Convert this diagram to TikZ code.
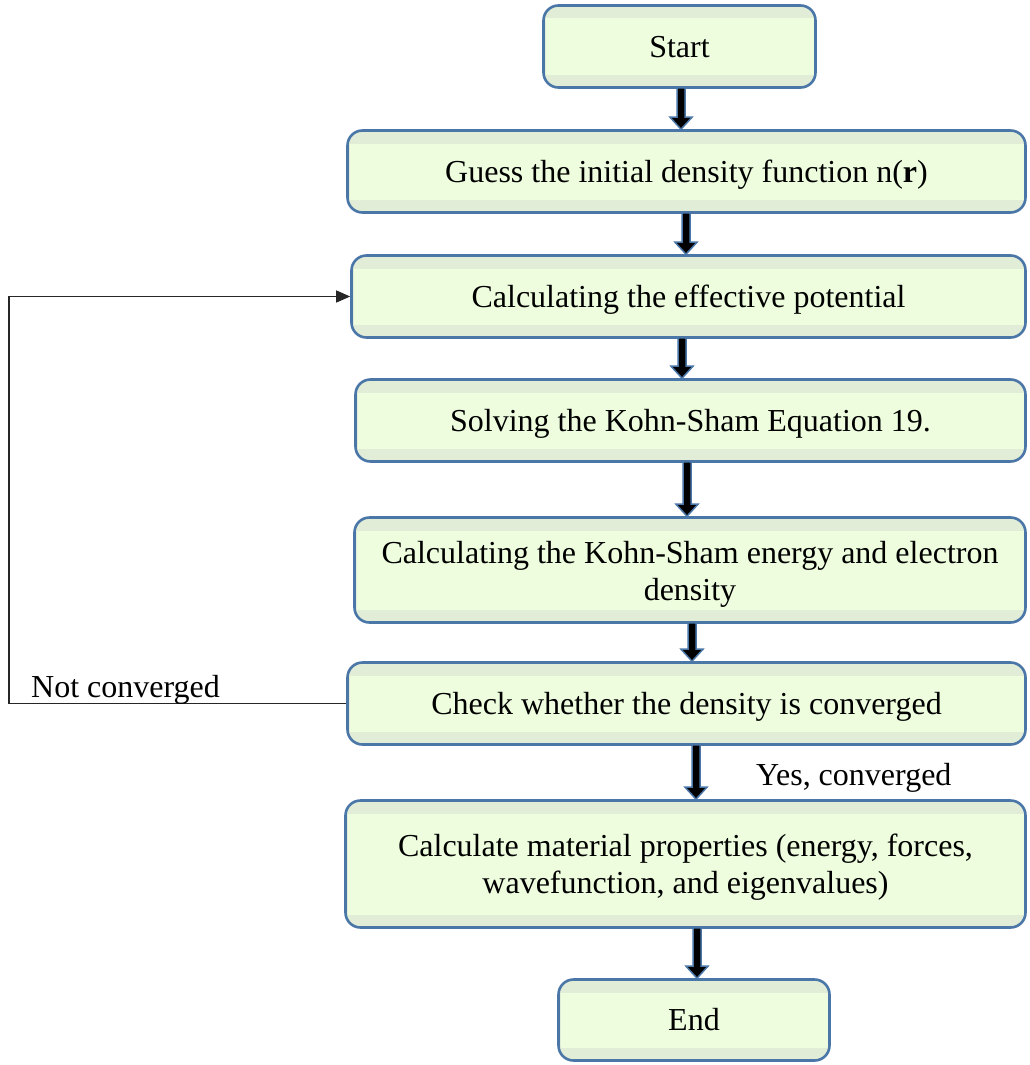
\documentclass[tikz,border=0pt]{standalone}
\usepackage{fontspec}
\setmainfont{Liberation Serif}
\usetikzlibrary{arrows.meta,calc}
\definecolor{bordc}{HTML}{4A77A8}
\definecolor{outerf}{HTML}{E1EDD7}
\definecolor{innerf}{HTML}{EDFDDE}
\tikzset{
 box/.style={draw=bordc, line width=2.6pt, rounded corners=15pt, fill=outerf, align=center,
   font=\fontsize{32}{37}\selectfont, inner sep=0pt,
   path picture={\fill[innerf, sharp corners] ([xshift=2pt,yshift=-13pt]path picture bounding box.north west) rectangle ([xshift=-2pt,yshift=13pt]path picture bounding box.south east);}},
 oneline/.style={text height=30pt, text depth=8pt},
 blk/.style={draw=bordc, line width=1.5pt, fill=black, line join=miter},
 fbline/.style={draw=black!85, line width=1.2pt},
 lab/.style={font=\fontsize{32}{37}\selectfont, inner sep=0pt}
}
\newcommand\blockarrow[3]{%
 \coordinate (ax) at (#1,0);
 \draw[blk] let \p1=(#2.south -| ax), \p2=(#3.north -| ax) in
 (\x1-4pt,\y1+1pt) -- (\x1-4pt,\y2+12pt) -- (\x1-11pt,\y2+12pt) -- (\x1,\y2) -- (\x1+11pt,\y2+12pt) -- (\x1+4pt,\y2+12pt) -- (\x1+4pt,\y1+1pt) -- cycle;}
\begin{document}
\begin{tikzpicture}[x=1pt,y=-1pt]
\useasboundingbox (0,0) rectangle (1029,1065);
\node[box, oneline, minimum width=272pt, minimum height=82pt] (start) at (679.5,46.5) {Start};
\node[box, oneline, minimum width=678pt, minimum height=82pt] (guess) at (686.5,171.5) {Guess the initial density function n(\textbf{r})};
\node[box, oneline, minimum width=674pt, minimum height=82pt] (calc) at (688.5,296.5) {Calculating the effective potential};
\node[box, oneline, minimum width=670pt, minimum height=82pt] (solve) at (690.5,420.5) {Solving the Kohn-Sham Equation 19.};
\node[box, minimum width=671pt, minimum height=105pt] (ks) at (690,570) {\rule{0pt}{31pt}Calculating the Kohn-Sham energy and electron\\density\rule[-8pt]{0pt}{8pt}};
\node[box, oneline, minimum width=678pt, minimum height=82pt] (check) at (686.5,703.5) {Check whether the density is converged};
\node[box, minimum width=680pt, minimum height=127pt] (mat) at (685.5,864) {\rule{0pt}{29pt}Calculate material properties (energy, forces,\\wavefunction, and eigenvalues)\rule[-8pt]{0pt}{8pt}};
\node[box, text height=28pt, text depth=8pt, minimum width=271pt, minimum height=81pt] (end) at (694,1020) {End};
\blockarrow{681}{start}{guess}
\blockarrow{686}{guess}{calc}
\blockarrow{682}{calc}{solve}
\blockarrow{687}{solve}{ks}
\blockarrow{692}{ks}{check}
\blockarrow{696}{check}{mat}
\blockarrow{697}{mat}{end}
\coordinate (fbc) at (9,703);
\draw[fbline, -{Triangle[length=14pt,width=12pt]}] (check.west) -- (check.west -| fbc) -- (fbc |- calc.west) -- (calc.west);
\node[lab, anchor=base west] (nc) at (31,697) {Not converged};
\node[lab, anchor=base west] (yc) at (756,785) {Yes, converged};
\end{tikzpicture}
\end{document}
